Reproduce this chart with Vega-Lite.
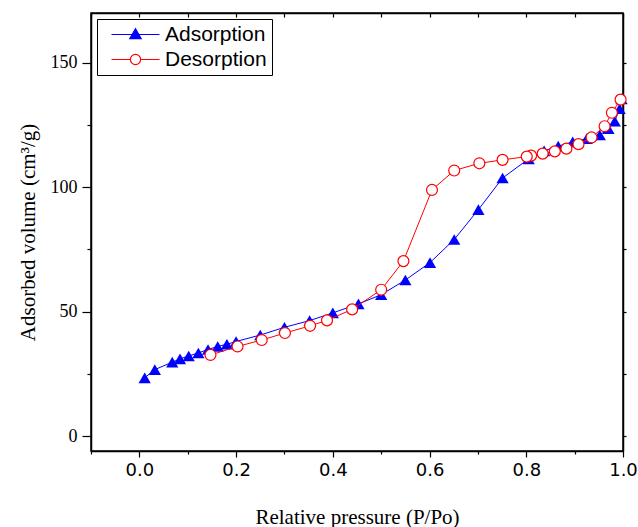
{
  "$schema": "https://vega.github.io/schema/vega-lite/v6.json",
  "width": 532,
  "height": 438,
  "autosize": "none",
  "padding": {"left": 91, "top": 13, "right": 15, "bottom": 76},
  "background": "white",
  "config": {
    "view": {"stroke": "black", "strokeWidth": 1.5},
    "axis": {"grid": false, "domainColor": "black", "domainWidth": 1.5, "tickColor": "black", "tickWidth": 1.2, "labelColor": "black", "titleColor": "black", "titleFontWeight": "normal"},
    "legend": {"orient": "top-left", "offset": 6, "strokeColor": "black", "strokeWidth": 1, "fillColor": "white", "padding": 5, "symbolSize": 144, "symbolOffset": 23, "labelOffset": 19, "labelFont": "Liberation Sans", "labelFontSize": 21, "labelColor": "black", "rowPadding": 3, "symbolStrokeWidth": 1.2}
  },
  "data": {"values": [
    {"series": "Adsorption", "p": 0.011, "v": 23.4},
    {"series": "Adsorption", "p": 0.032, "v": 26.7},
    {"series": "Adsorption", "p": 0.068, "v": 29.7},
    {"series": "Adsorption", "p": 0.084, "v": 31.0},
    {"series": "Adsorption", "p": 0.102, "v": 32.2},
    {"series": "Adsorption", "p": 0.122, "v": 33.4},
    {"series": "Adsorption", "p": 0.142, "v": 34.8},
    {"series": "Adsorption", "p": 0.162, "v": 36.0},
    {"series": "Adsorption", "p": 0.181, "v": 36.9},
    {"series": "Adsorption", "p": 0.2, "v": 38.0},
    {"series": "Adsorption", "p": 0.25, "v": 40.6},
    {"series": "Adsorption", "p": 0.3, "v": 43.7},
    {"series": "Adsorption", "p": 0.352, "v": 46.4},
    {"series": "Adsorption", "p": 0.4, "v": 49.5},
    {"series": "Adsorption", "p": 0.453, "v": 53.1},
    {"series": "Adsorption", "p": 0.5, "v": 56.8},
    {"series": "Adsorption", "p": 0.55, "v": 62.7},
    {"series": "Adsorption", "p": 0.601, "v": 69.7},
    {"series": "Adsorption", "p": 0.651, "v": 79.0},
    {"series": "Adsorption", "p": 0.701, "v": 91.0},
    {"series": "Adsorption", "p": 0.751, "v": 103.7},
    {"series": "Adsorption", "p": 0.805, "v": 111.4},
    {"series": "Adsorption", "p": 0.837, "v": 114.6},
    {"series": "Adsorption", "p": 0.866, "v": 116.5},
    {"series": "Adsorption", "p": 0.896, "v": 118.2},
    {"series": "Adsorption", "p": 0.925, "v": 119.5},
    {"series": "Adsorption", "p": 0.952, "v": 121.0},
    {"series": "Adsorption", "p": 0.97, "v": 123.5},
    {"series": "Adsorption", "p": 0.983, "v": 126.5},
    {"series": "Adsorption", "p": 0.993, "v": 131.5},
    {"series": "Adsorption", "p": 0.997, "v": 135.5},
    {"series": "Desorption", "p": 0.995, "v": 135.2},
    {"series": "Desorption", "p": 0.977, "v": 129.9},
    {"series": "Desorption", "p": 0.962, "v": 124.5},
    {"series": "Desorption", "p": 0.935, "v": 120.0},
    {"series": "Desorption", "p": 0.908, "v": 117.3},
    {"series": "Desorption", "p": 0.883, "v": 115.5},
    {"series": "Desorption", "p": 0.859, "v": 114.4},
    {"series": "Desorption", "p": 0.834, "v": 113.5},
    {"series": "Desorption", "p": 0.81, "v": 112.7},
    {"series": "Desorption", "p": 0.801, "v": 112.3},
    {"series": "Desorption", "p": 0.751, "v": 111.0},
    {"series": "Desorption", "p": 0.703, "v": 109.6},
    {"series": "Desorption", "p": 0.651, "v": 106.7},
    {"series": "Desorption", "p": 0.605, "v": 98.9},
    {"series": "Desorption", "p": 0.546, "v": 70.3},
    {"series": "Desorption", "p": 0.5, "v": 58.8},
    {"series": "Desorption", "p": 0.44, "v": 50.9},
    {"series": "Desorption", "p": 0.388, "v": 46.5},
    {"series": "Desorption", "p": 0.353, "v": 44.3},
    {"series": "Desorption", "p": 0.301, "v": 41.4},
    {"series": "Desorption", "p": 0.253, "v": 38.6},
    {"series": "Desorption", "p": 0.203, "v": 36.0},
    {"series": "Desorption", "p": 0.147, "v": 32.6}
  ]},
  "layer": [
    {
      "transform": [{"filter": "datum.series == 'Adsorption'"}],
      "mark": {"type": "line", "color": "#0000ff", "strokeWidth": 1},
      "encoding": {
        "x": {"field": "p", "type": "quantitative", "scale": {"domain": [-0.1, 1.0], "nice": false, "zero": false},
          "axis": {"orient": "bottom", "values": [0, 0.2, 0.4, 0.6, 0.8, 1.0], "format": ".1f", "tickSize": 6, "labelPadding": 4, "labelFont": "DejaVu Sans", "labelFontSize": 18, "labelFlush": false, "title": "Relative pressure (P/Po)", "titleFont": "Liberation Serif", "titleFontSize": 21, "titlePadding": 27}},
        "y": {"field": "v", "type": "quantitative", "scale": {"domain": [-6, 170], "nice": false, "zero": false},
          "axis": {"orient": "left", "values": [0, 50, 100, 150], "tickSize": 9, "labelPadding": 5, "labelFont": "Liberation Serif", "labelFontSize": 18, "labelFlush": false, "title": "Adsorbed volume (cm³/g)", "titleFont": "Liberation Serif", "titleFontSize": 21, "titlePadding": 12}}
      }
    },
    {
      "transform": [{"filter": "datum.series == 'Adsorption'"}],
      "mark": {"type": "point", "shape": "triangle-up", "filled": true, "color": "#0000ff", "size": 150, "opacity": 1},
      "encoding": {
        "x": {"field": "p", "type": "quantitative",
          "axis": {"orient": "bottom", "values": [-0.1, 0.1, 0.3, 0.5, 0.7, 0.9], "tickSize": 3, "labels": false, "domain": false, "title": null}},
        "y": {"field": "v", "type": "quantitative",
          "axis": {"orient": "left", "values": [25, 75, 125], "tickSize": 4, "labels": false, "domain": false, "title": null}}
      }
    },
    {
      "transform": [{"filter": "datum.series == 'Desorption'"}],
      "mark": {"type": "line", "color": "#ff0000", "strokeWidth": 1},
      "encoding": {
        "x": {"field": "p", "type": "quantitative", "sort": null,
          "axis": {"orient": "top", "values": [-0.1, 0, 0.1, 0.2, 0.3, 0.4, 0.5, 0.6, 0.7, 0.8, 0.9, 1.0], "tickSize": -4, "labels": false, "title": null}},
        "y": {"field": "v", "type": "quantitative",
          "axis": {"orient": "right", "values": [0, 25, 50, 75, 100, 125, 150], "tickSize": 3, "labels": false, "title": null}}
      }
    },
    {
      "transform": [{"filter": "datum.series == 'Desorption'"}],
      "mark": {"type": "point", "shape": "circle", "filled": true, "fill": "white", "stroke": "#ff0000", "strokeWidth": 1.2, "size": 120, "opacity": 1},
      "encoding": {
        "x": {"field": "p", "type": "quantitative", "axis": null},
        "y": {"field": "v", "type": "quantitative", "axis": null}
      }
    },
    {
      "transform": [{"filter": "datum.p > 5"}],
      "mark": {"type": "point", "filled": true, "strokeWidth": 1.2, "opacity": 1},
      "encoding": {
        "x": {"field": "p", "type": "quantitative", "axis": null},
        "y": {"field": "v", "type": "quantitative", "axis": null},
        "shape": {"field": "series", "type": "nominal", "title": null,
          "scale": {"domain": ["Adsorption", "Desorption"], "range": ["M-4,0H4M0,-0.95L0.95,0.7L-0.95,0.7Z", "M-4,0H-0.85M0.85,0H4M0.85,0A0.85,0.85 0 1,1 -0.85,0A0.85,0.85 0 1,1 0.85,0Z"]}},
        "stroke": {"field": "series", "type": "nominal", "title": null,
          "scale": {"domain": ["Adsorption", "Desorption"], "range": ["#0000ff", "#ff0000"]}},
        "fill": {"field": "series", "type": "nominal", "title": null,
          "scale": {"domain": ["Adsorption", "Desorption"], "range": ["#0000ff", "#ffffff"]}}
      }
    }
  ],
  "resolve": {"axis": {"x": "independent", "y": "independent"}}
}
